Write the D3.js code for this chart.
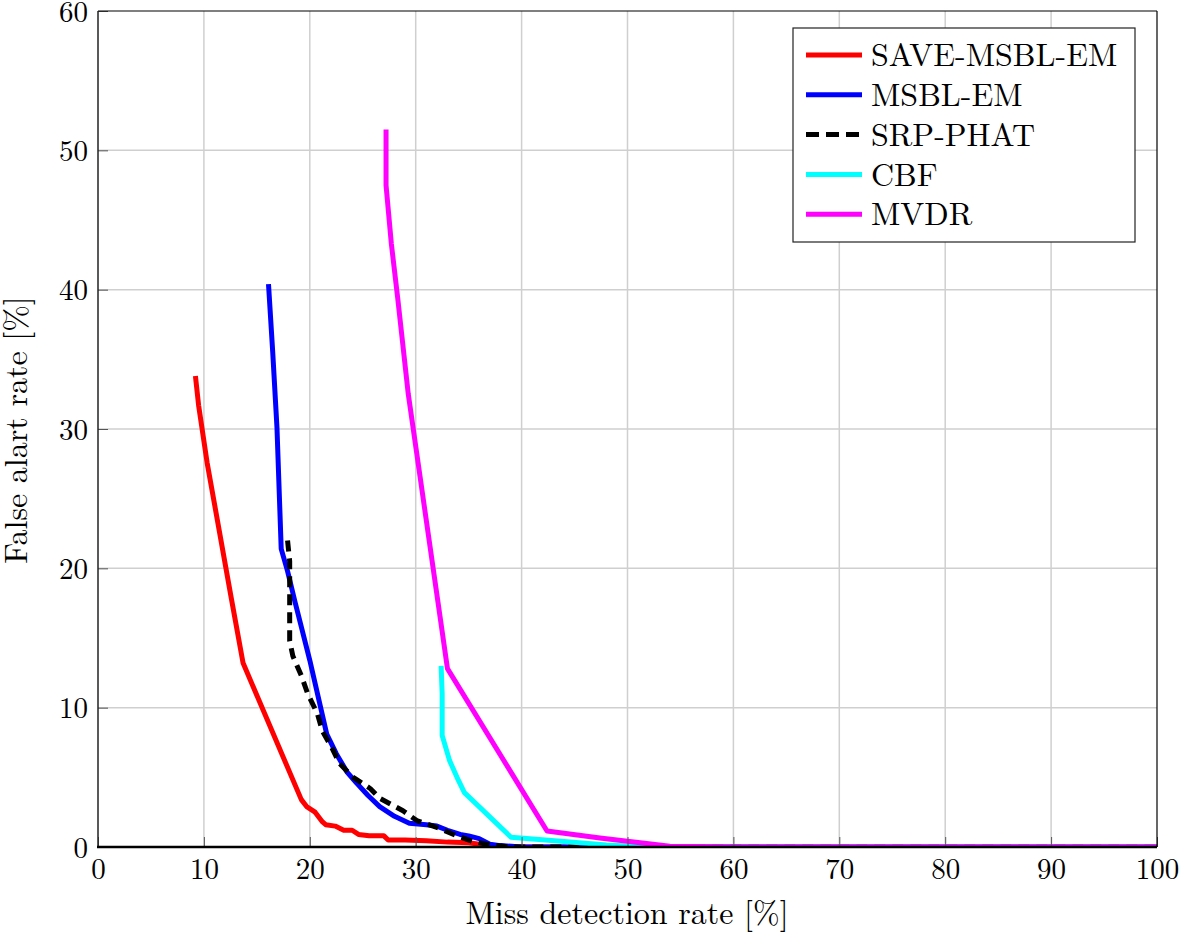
<!DOCTYPE html>
<html>
<head>
<meta charset="utf-8">
<script src="https://cdn.jsdelivr.net/npm/d3@7"></script>
<style>
	body { margin: 0; background: #fff; }
	text { font-family: "Latin Modern Roman", "CMU Serif", "Times New Roman", "Liberation Serif", "DejaVu Serif", "Noto Serif", "FreeSerif", Tinos, serif; fill: #000; }
</style>
</head>
<body>
<script>
// series: [miss detection %, false alarm %]
var saveMsbl = [[9.2,33.8],[9.5,31.7],[10.3,27.6],[12.6,17.8],[13.7,13.2],[19.2,3.4],[19.7,2.9],[20.5,2.5],[21.2,1.8],[21.5,1.6],[22.4,1.5],[23.2,1.2],[24.0,1.2],[24.6,0.9],[25.6,0.8],[27.0,0.8],[27.4,0.5],[29,0.5],[31,0.45],[33,0.35],[35,0.3],[36.5,0.15],[37.5,0],[100,0]];
var msblEm = [[16.1,40.4],[16.5,35.5],[16.9,30.1],[17.3,21.4],[17.9,19.8],[18.6,17.6],[20.0,13.4],[21.6,8.1],[22.5,6.7],[23.5,5.4],[24.4,4.6],[25.5,3.7],[26.6,2.9],[28,2.2],[29.4,1.7],[31,1.6],[32,1.5],[33,1.2],[34.2,0.9],[35,0.8],[36,0.6],[37,0.2],[38,0.1],[40,0],[100,0]];
var srpPhat = [[17.9,22.0],[18.1,20.5],[18.1,14.8],[18.4,13.7],[19.2,12.3],[19.8,11.0],[20.7,9.6],[21.2,8.3],[22.1,7.1],[22.8,6.0],[24.1,5.0],[25.7,4.2],[26.6,3.5],[28.8,2.6],[30.1,1.9],[32,1.4],[33.9,0.8],[35.4,0.4],[37,0.15],[39,0],[100,0]];
var cbf = [[32.4,13.0],[32.5,11.0],[32.5,8.0],[33.2,6.2],[33.9,5.0],[34.6,3.9],[39.0,0.7],[44,0.4],[48,0.15],[52,0],[100,0]];
var mvdr = [[27.2,51.5],[27.2,47.5],[27.7,43.3],[28.3,39.4],[29.3,32.5],[33.0,12.8],[42.4,1.15],[47.4,0.65],[54,0.05],[60,0],[100,0]];

var seriesNames = ["SAVE-MSBL-EM", "MSBL-EM", "SRP-PHAT", "CBF", "MVDR"];
var seriesData = [saveMsbl, msblEm, srpPhat, cbf, mvdr];
var seriesColors = ["#ff0000", "#0000ff", "#000000", "#00ffff", "#ff00ff"];
var seriesDash = [null, null, "11,7", null, null];

var xTicks = [0,10,20,30,40,50,60,70,80,90,100];
var yTicks = [0,10,20,30,40,50,60];

var W = 1181, H = 934;
var pLeft = 98, pRight = 1157, pTop = 11, pBottom = 847;

var svg = d3.select("body").append("svg")
	.attr("width", W)
	.attr("height", H);

var x = d3.scaleLinear().domain([0, 100]).range([pLeft, pRight]);
var y = d3.scaleLinear().domain([0, 60]).range([pBottom, pTop]);

// grid
svg.append("g").selectAll("line").data(xTicks.slice(1, -1)).enter().append("line")
	.attr("x1", function(d) { return x(d); })
	.attr("x2", function(d) { return x(d); })
	.attr("y1", pTop).attr("y2", pBottom)
	.attr("stroke", "#cfcfcf").attr("stroke-width", 1.5);
svg.append("g").selectAll("line").data(yTicks.slice(1, -1)).enter().append("line")
	.attr("y1", function(d) { return y(d); })
	.attr("y2", function(d) { return y(d); })
	.attr("x1", pLeft).attr("x2", pRight)
	.attr("stroke", "#cfcfcf").attr("stroke-width", 1.5);

// curves
svg.append("clipPath").attr("id", "plotClip")
	.append("rect")
	.attr("x", pLeft).attr("y", pTop)
	.attr("width", pRight - pLeft).attr("height", pBottom - pTop);

var line = d3.line()
	.x(function(d) { return x(d[0]); })
	.y(function(d) { return y(d[1]); });

var curves = svg.append("g").attr("clip-path", "url(#plotClip)");
for (var i = 0; i < seriesData.length; i++) {
	curves.append("path")
		.attr("d", line(seriesData[i]))
		.attr("fill", "none")
		.attr("stroke", seriesColors[i])
		.attr("stroke-width", 5)
		.attr("stroke-linejoin", "round")
		.attr("stroke-dasharray", seriesDash[i]);
}

// axes, ticks pointing inward
var xAxis = svg.append("g")
	.attr("transform", "translate(0," + pBottom + ")")
	.call(d3.axisBottom(x).tickValues(xTicks).tickSizeInner(-10).tickSizeOuter(0).tickPadding(6));
var yAxis = svg.append("g")
	.attr("transform", "translate(" + pLeft + ",0)")
	.call(d3.axisLeft(y).tickValues(yTicks).tickSizeInner(-10).tickSizeOuter(0).tickPadding(10));
[xAxis, yAxis].forEach(function(g) {
	g.attr("font-family", null);
	g.select(".domain").remove();
	g.selectAll(".tick line").attr("stroke", "#555").attr("stroke-width", 1);
	g.selectAll(".tick text")
		.style("font-size", "29px")
		.attr("fill", "#000");
});
xAxis.selectAll(".tick text").attr("dy", "0.9em");
yAxis.selectAll(".tick text").attr("dy", "0.35em");

// frame
svg.append("line").attr("x1", pLeft).attr("x2", pRight).attr("y1", pTop).attr("y2", pTop)
	.attr("stroke", "#000").attr("stroke-width", 1.2);
svg.append("line").attr("x1", pRight).attr("x2", pRight).attr("y1", pTop).attr("y2", pBottom)
	.attr("stroke", "#000").attr("stroke-width", 1.2);
svg.append("line").attr("x1", pLeft).attr("x2", pLeft).attr("y1", pTop).attr("y2", pBottom)
	.attr("stroke", "#222").attr("stroke-width", 1.5);
svg.append("line").attr("x1", pLeft - 1).attr("x2", pRight).attr("y1", pBottom).attr("y2", pBottom)
	.attr("stroke", "#000").attr("stroke-width", 2.5);

// axis titles
svg.append("text")
	.attr("x", 627)
	.attr("y", 924)
	.attr("text-anchor", "middle")
	.style("font-size", "32px")
	.text("Miss detection rate [%]");
svg.append("text")
	.attr("transform", "translate(27," + 430 + ") rotate(-90)")
	.attr("text-anchor", "middle")
	.style("font-size", "32px")
	.text("False alart rate [%]");

// legend
var legend = svg.append("g");
legend.append("rect")
	.attr("x", 793).attr("y", 28)
	.attr("width", 1135 - 793).attr("height", 242 - 28)
	.attr("fill", "#fff")
	.attr("stroke", "#222").attr("stroke-width", 1.2);
for (var j = 0; j < seriesNames.length; j++) {
	var ly = 55 + j * 39.8;
	legend.append("line")
		.attr("x1", 806).attr("x2", 862)
		.attr("y1", ly).attr("y2", ly)
		.attr("stroke", seriesColors[j])
		.attr("stroke-width", 5)
		.attr("stroke-dasharray", seriesDash[j] ? "13,7" : null);
	legend.append("text")
		.attr("x", 871).attr("y", ly)
		.attr("dy", "0.35em")
		.style("font-size", "32px")
		.text(seriesNames[j]);
}
</script>
</body>
</html>
